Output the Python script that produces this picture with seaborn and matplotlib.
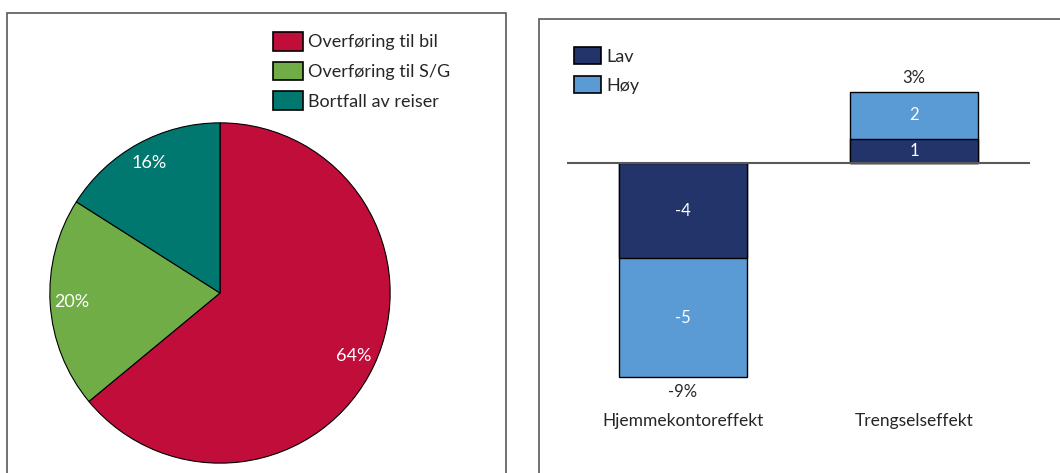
import numpy as np
import pandas as pd
import matplotlib
matplotlib.use("Agg")
import matplotlib.pyplot as plt
import seaborn as sns
from matplotlib.patches import Rectangle, Patch

sns.set_theme(style="white")
plt.rcParams['font.family'] = ['Lato', 'DejaVu Sans']

# pie data
pie_labels = ["Overføring til bil", "Overføring til S/G", "Bortfall av reiser"]
pie_values = [64, 20, 16]
pie_colors = ["#C00D3A", "#70AD47", "#00786F"]

# stacked bar data
effects = ["Hjemmekontoreffekt", "Trengselseffekt"]
lav = [-4, 1]
hoy = [-5, 2]
series = ["Lav", "Høy"]
lav_color = "#22346A"
hoy_color = "#5B9BD5"

text_col = "#262626"
W, H = 1060, 473
fig = plt.figure(figsize=(W / 100, H / 100), dpi=100)


def fx(px):
    return px / W


def fy(py):
    return 1 - py / H


# panel frames (run past the bottom / right edge like the screenshot)
for x0, y0, x1, y1 in [(7, 13, 506, 500), (539, 19, 1090, 500)]:
    fig.patches.append(Rectangle((fx(x0), fy(y1)), fx(x1 - x0), (y1 - y0) / H,
                                 transform=fig.transFigure, fill=False,
                                 edgecolor="#595959", lw=1.2))

# %% pie
ax1 = fig.add_axes([fx(49), fy(464), fx(342), 342 / H])
wedges, _, autotexts = ax1.pie(pie_values, colors=pie_colors, startangle=90,
                               counterclock=False, radius=1,
                               autopct=lambda p: f"{p:.0f}%", pctdistance=0.87,
                               wedgeprops=dict(edgecolor="black", linewidth=0.8),
                               textprops=dict(color="white", fontsize=13))
ax1.set_xlim(-1.005, 1.005)
ax1.set_ylim(-1.005, 1.005)
ax1.set_aspect("equal")

pie_handles = [Patch(facecolor=c, edgecolor="black", linewidth=1.2) for c in pie_colors]
fig.legend(pie_handles, pie_labels, loc="upper left",
           bbox_to_anchor=(fx(273), fy(32)), frameon=False, borderpad=0,
           borderaxespad=0, fontsize=13, handlelength=1.65, handleheight=1.2,
           handletextpad=0.3, labelspacing=0.62, labelcolor=text_col)

# %% stacked bars
df = pd.DataFrame({"effekt": effects, "Lav": lav, "Høy": hoy})
df["total"] = df["Lav"] + df["Høy"]

ax2 = fig.add_axes([fx(567), fy(410), fx(1030 - 567), (410 - 40) / H])
# full stack in Høy colour, Lav drawn on top next to the zero line
sns.barplot(data=df, x="effekt", y="total", color=hoy_color, saturation=1,
            width=0.552, edgecolor="black", linewidth=1, ax=ax2)
sns.barplot(data=df, x="effekt", y="Lav", color=lav_color, saturation=1,
            width=0.552, edgecolor="black", linewidth=1, ax=ax2)
ax2.set_xlim(-0.5, 1.5)
ax2.set_ylim(-10.38, 5.17)
ax2.axhline(0, color="#595959", lw=1.5, zorder=5)

for i, row in df.iterrows():
    ax2.text(i, row["Lav"] / 2, f"{row['Lav']}", color="white", fontsize=12,
             ha="center", va="center")
    ax2.text(i, row["Lav"] + row["Høy"] / 2, f"{row['Høy']}", color="white",
             fontsize=12, ha="center", va="center")
    off = 9.5 if row["total"] > 0 else -11
    ax2.annotate(f"{row['total']}%", (i, row["total"]), xytext=(0, off),
                 textcoords="offset points", ha="center", va="center",
                 fontsize=12, color=text_col)

for s in ax2.spines.values():
    s.set_visible(False)
ax2.set_yticks([])
ax2.set_xlabel("")
ax2.set_ylabel("")
ax2.tick_params(axis="x", length=0, pad=2, labelsize=12.5, labelcolor=text_col)

bar_handles = [Patch(facecolor=lav_color, edgecolor="black", linewidth=1.2),
               Patch(facecolor=hoy_color, edgecolor="black", linewidth=1.2)]
fig.legend(bar_handles, series, loc="upper left",
           bbox_to_anchor=(fx(574), fy(47)), frameon=False, borderpad=0,
           borderaxespad=0, fontsize=13, handlelength=1.5, handleheight=1.1,
           handletextpad=0.3, labelspacing=0.62, labelcolor=text_col)

fig.savefig("out.png", dpi=100, facecolor="white")
